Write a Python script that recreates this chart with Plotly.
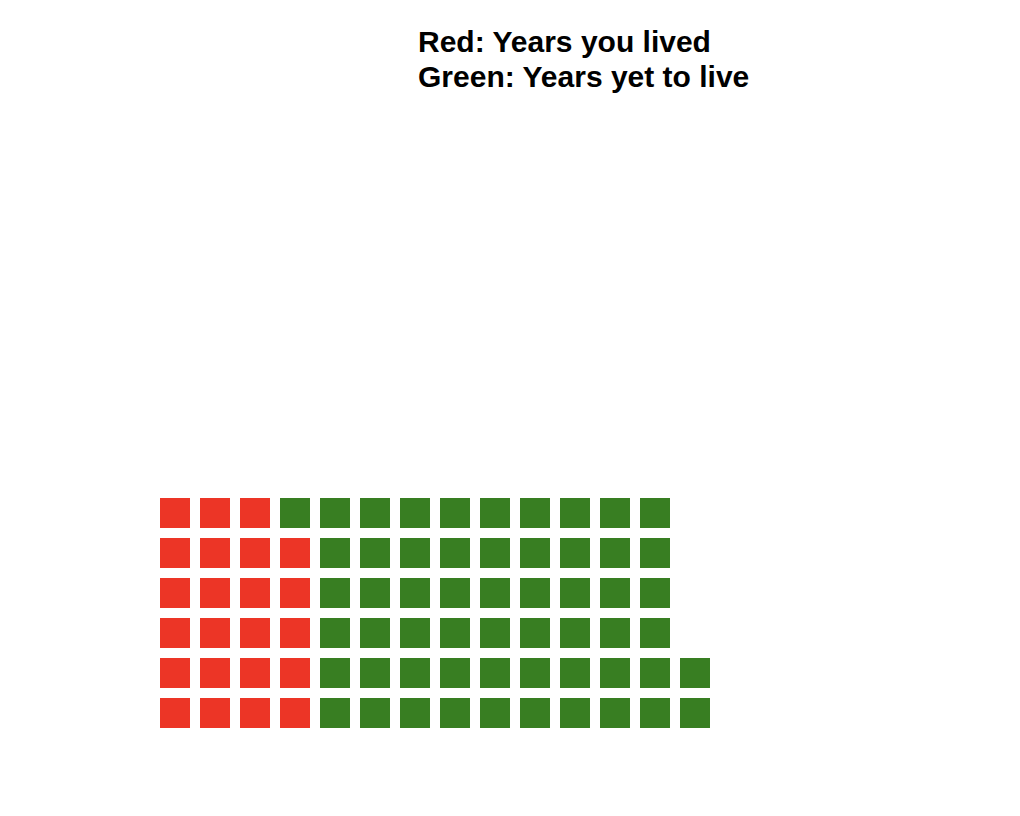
import plotly.graph_objects as go

# Data
years_lived = 23
years_total = 80
rows = 6
colors = {"lived": "#EC3526", "to_live": "#387E22"}
title_lines = ["Red: Years you lived", "Green: Years yet to live"]

# Column-major fill, bottom to top
cells = list(range(years_total))
xs = [c // rows for c in cells]
ys = [c % rows for c in cells]
cols = [colors["lived"] if c < years_lived else colors["to_live"] for c in cells]

W, H = 1020, 816
off = 8  # page body margin
x0_px, y0_px, step = 175 - off, 713 - off, 40

fig = go.Figure()
fig.add_trace(go.Scatter(
    x=xs, y=ys, mode="markers",
    marker=dict(symbol="square", size=30, color=cols, line=dict(width=0)),
    showlegend=False, hoverinfo="skip",
))

line_centers = [42 - off, 76 - off]
fig.update_layout(
    width=W, height=H,
    margin=dict(l=0, r=0, t=0, b=0),
    plot_bgcolor="white", paper_bgcolor="white",
    xaxis=dict(range=[-x0_px/step, (W-x0_px)/step], visible=False, fixedrange=True),
    yaxis=dict(range=[(y0_px-H)/step, y0_px/step], visible=False, fixedrange=True),
    annotations=[dict(
        text="<b>" + t + "</b>",
        xref="paper", yref="paper", x=(418 - off - 2)/W, y=1 - yc/H,
        xanchor="left", yanchor="middle", align="left", showarrow=False,
        font=dict(family="Liberation Sans, Arial", size=30, color="black"),
    ) for t, yc in zip(title_lines, line_centers)],
)

fig.write_html("out.html")
